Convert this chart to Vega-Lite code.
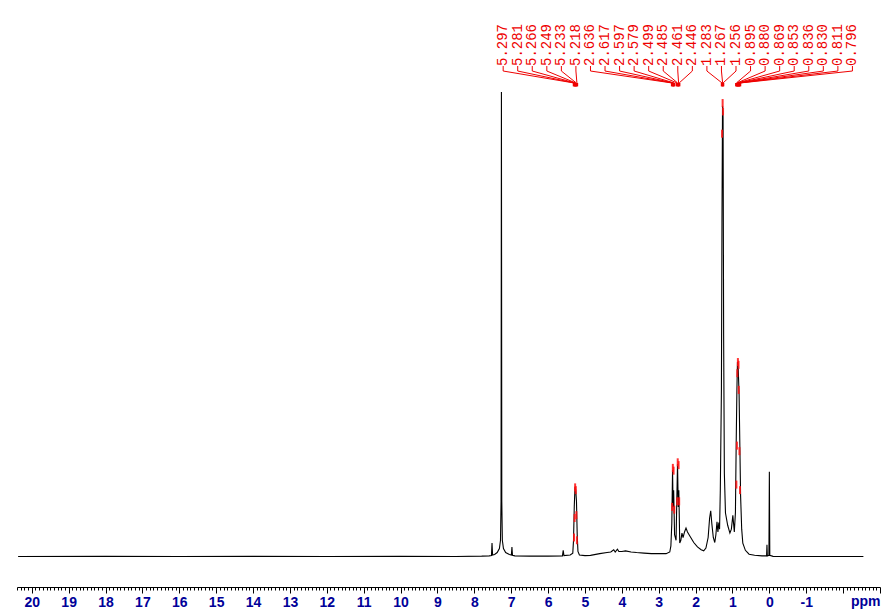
{
  "$schema": "https://vega.github.io/schema/vega-lite/v6.json",
  "width": 863,
  "height": 557,
  "autosize": {"type": "none"},
  "padding": {"left": 17, "top": 0, "right": 14, "bottom": 55},
  "background": "white",
  "config": {"view": {"stroke": null}},
  "datasets": {
    "spectrum": [
      {"ppm": 20.37, "i": 0.1}, {"ppm": 18.0, "i": 0.12}, {"ppm": 16.0, "i": 0.1}, {"ppm": 14.0, "i": 0.12},
      {"ppm": 12.0, "i": 0.1}, {"ppm": 10.0, "i": 0.12}, {"ppm": 8.5, "i": 0.1}, {"ppm": 7.8, "i": 0.15},
      {"ppm": 7.6, "i": 0.2}, {"ppm": 7.535, "i": 0.25}, {"ppm": 7.52, "i": 2.5}, {"ppm": 7.505, "i": 0.35},
      {"ppm": 7.45, "i": 0.45}, {"ppm": 7.38, "i": 0.8}, {"ppm": 7.32, "i": 1.5}, {"ppm": 7.29, "i": 3},
      {"ppm": 7.275, "i": 10}, {"ppm": 7.265, "i": 83.5}, {"ppm": 7.255, "i": 10}, {"ppm": 7.24, "i": 3},
      {"ppm": 7.21, "i": 1.5}, {"ppm": 7.15, "i": 0.8}, {"ppm": 7.05, "i": 0.45}, {"ppm": 6.995, "i": 0.35},
      {"ppm": 6.98, "i": 1.8}, {"ppm": 6.965, "i": 0.3}, {"ppm": 6.9, "i": 0.2}, {"ppm": 6.5, "i": 0.15},
      {"ppm": 6.0, "i": 0.15}, {"ppm": 5.61, "i": 0.2}, {"ppm": 5.59, "i": 1.2}, {"ppm": 5.57, "i": 0.25},
      {"ppm": 5.4, "i": 0.35}, {"ppm": 5.33, "i": 0.7}, {"ppm": 5.31, "i": 3}, {"ppm": 5.29, "i": 9},
      {"ppm": 5.27, "i": 12.6}, {"ppm": 5.25, "i": 12}, {"ppm": 5.23, "i": 10}, {"ppm": 5.21, "i": 4},
      {"ppm": 5.19, "i": 1}, {"ppm": 5.15, "i": 0.35}, {"ppm": 5.0, "i": 0.25}, {"ppm": 4.85, "i": 0.3},
      {"ppm": 4.6, "i": 0.6}, {"ppm": 4.4, "i": 0.8}, {"ppm": 4.3, "i": 0.9}, {"ppm": 4.22, "i": 1.3},
      {"ppm": 4.18, "i": 0.9}, {"ppm": 4.12, "i": 1.4}, {"ppm": 4.08, "i": 1.0}, {"ppm": 4.0, "i": 1.0},
      {"ppm": 3.9, "i": 1.1}, {"ppm": 3.75, "i": 0.9}, {"ppm": 3.6, "i": 0.8}, {"ppm": 3.4, "i": 0.7},
      {"ppm": 3.2, "i": 0.6}, {"ppm": 3.0, "i": 0.6}, {"ppm": 2.8, "i": 0.6}, {"ppm": 2.7, "i": 0.9},
      {"ppm": 2.67, "i": 2}, {"ppm": 2.645, "i": 6}, {"ppm": 2.625, "i": 15.6}, {"ppm": 2.61, "i": 9},
      {"ppm": 2.595, "i": 12}, {"ppm": 2.57, "i": 4}, {"ppm": 2.53, "i": 3}, {"ppm": 2.51, "i": 10},
      {"ppm": 2.49, "i": 16.7}, {"ppm": 2.47, "i": 9}, {"ppm": 2.455, "i": 12}, {"ppm": 2.43, "i": 2.5},
      {"ppm": 2.4, "i": 3}, {"ppm": 2.37, "i": 4.3}, {"ppm": 2.34, "i": 3.5}, {"ppm": 2.3, "i": 4.5},
      {"ppm": 2.26, "i": 5.2}, {"ppm": 2.22, "i": 4.5}, {"ppm": 2.14, "i": 3.6}, {"ppm": 2.05, "i": 2.6},
      {"ppm": 1.95, "i": 1.8}, {"ppm": 1.85, "i": 1.3}, {"ppm": 1.78, "i": 1.1}, {"ppm": 1.72, "i": 1.6},
      {"ppm": 1.66, "i": 3.5}, {"ppm": 1.62, "i": 7}, {"ppm": 1.59, "i": 8.3}, {"ppm": 1.56, "i": 6},
      {"ppm": 1.52, "i": 3.5}, {"ppm": 1.48, "i": 2.6}, {"ppm": 1.45, "i": 4}, {"ppm": 1.42, "i": 6.3},
      {"ppm": 1.395, "i": 4.5}, {"ppm": 1.37, "i": 6.2}, {"ppm": 1.35, "i": 5}, {"ppm": 1.33, "i": 12},
      {"ppm": 1.3, "i": 30}, {"ppm": 1.285, "i": 60}, {"ppm": 1.27, "i": 81}, {"ppm": 1.255, "i": 79},
      {"ppm": 1.24, "i": 40}, {"ppm": 1.22, "i": 15}, {"ppm": 1.19, "i": 7.9}, {"ppm": 1.13, "i": 5.7},
      {"ppm": 1.07, "i": 4.3}, {"ppm": 1.03, "i": 5}, {"ppm": 0.99, "i": 7.5}, {"ppm": 0.95, "i": 4.5},
      {"ppm": 0.92, "i": 8}, {"ppm": 0.9, "i": 20}, {"ppm": 0.88, "i": 30}, {"ppm": 0.865, "i": 35},
      {"ppm": 0.845, "i": 34}, {"ppm": 0.82, "i": 29}, {"ppm": 0.8, "i": 20}, {"ppm": 0.78, "i": 11},
      {"ppm": 0.75, "i": 5}, {"ppm": 0.72, "i": 2.5}, {"ppm": 0.65, "i": 1.2}, {"ppm": 0.55, "i": 0.5},
      {"ppm": 0.4, "i": 0.3}, {"ppm": 0.2, "i": 0.2}, {"ppm": 0.075, "i": 0.2}, {"ppm": 0.065, "i": 2.2},
      {"ppm": 0.055, "i": 0.2}, {"ppm": 0.012, "i": 0.3}, {"ppm": 0.0, "i": 15.3}, {"ppm": -0.012, "i": 0.3},
      {"ppm": -0.1, "i": 0.12}, {"ppm": -1.0, "i": 0.1}, {"ppm": -2.0, "i": 0.1}, {"ppm": -2.55, "i": 0.1}
    ],
    "peaks": [
      {"ppm": 5.297, "h": 3.5}, {"ppm": 5.281, "h": 7}, {"ppm": 5.266, "h": 12.5}, {"ppm": 5.249, "h": 12},
      {"ppm": 5.233, "h": 7.5}, {"ppm": 5.218, "h": 3},
      {"ppm": 2.636, "h": 9}, {"ppm": 2.617, "h": 16}, {"ppm": 2.597, "h": 15.5}, {"ppm": 2.579, "h": 8.5},
      {"ppm": 2.499, "h": 10}, {"ppm": 2.485, "h": 17}, {"ppm": 2.461, "h": 16.5}, {"ppm": 2.446, "h": 10},
      {"ppm": 1.283, "h": 76}, {"ppm": 1.267, "h": 81.5}, {"ppm": 1.256, "h": 80},
      {"ppm": 0.895, "h": 13}, {"ppm": 0.88, "h": 20}, {"ppm": 0.869, "h": 33}, {"ppm": 0.853, "h": 35},
      {"ppm": 0.836, "h": 34.5}, {"ppm": 0.83, "h": 30}, {"ppm": 0.811, "h": 19}, {"ppm": 0.796, "h": 12}
    ]
  },
  "layer": [
    {
      "data": {"name": "spectrum"},
      "mark": {"type": "line", "color": "black", "strokeWidth": 1.1, "interpolate": "linear"},
      "encoding": {
        "x": {
          "field": "ppm", "type": "quantitative",
          "scale": {"domain": [-3.0, 20.4], "reverse": true, "nice": false, "zero": false},
          "axis": {
            "orient": "bottom", "offset": 30, "grid": false,
            "title": "ppm", "titleX": 863, "titleY": 18, "titleAlign": "right", "titleAnchor": null,
            "titleBaseline": "alphabetic", "titleFont": "Liberation Sans", "titleFontSize": 14,
            "titleFontWeight": "bold", "titleColor": "#000099", "titlePadding": 0, "titleAngle": 0,
            "tickCount": 234, "labelOverlap": false, "labelFlush": false, "labelBound": false,
            "labelExpr": "datum.value % 1 === 0 && datum.value >= -1 ? toString(datum.value) : ''",
            "labelFont": "Liberation Sans", "labelFontSize": 14, "labelFontWeight": "bold",
            "labelColor": "#000099", "labelPadding": 2, "labelBaseline": "top",
            "tickSize": {"condition": {"test": "datum.value % 1 === 0", "value": 6}, "value": 3},
            "tickColor": "black", "tickWidth": 1, "domainColor": "black", "domainWidth": 1
          }
        },
        "y": {"field": "i", "type": "quantitative", "scale": {"domain": [0, 100], "nice": false, "zero": false}, "axis": null}
      }
    },
    {
      "data": {"name": "peaks"},
      "transform": [
        {"window": [{"op": "row_number", "as": "idx"}], "sort": [{"field": "ppm", "order": "descending"}]},
        {"calculate": "7.218 - 0.3946 * (datum.idx - 1)", "as": "slot"}
      ],
      "layer": [
        {
          "mark": {"type": "tick", "orient": "vertical", "color": "#ff1010", "size": 8, "thickness": 2, "opacity": 0.85},
          "encoding": {
            "x": {"field": "ppm", "type": "quantitative", "title": "ppm"},
            "y": {"field": "h", "type": "quantitative"}
          }
        },
        {
          "mark": {"type": "text", "angle": 270, "align": "left", "baseline": "middle", "font": "Liberation Mono", "fontSize": 14, "color": "#ee0000"},
          "encoding": {
            "x": {"field": "slot", "type": "quantitative", "title": "ppm"},
            "y": {"datum": 88.15, "type": "quantitative"},
            "text": {"field": "ppm", "type": "quantitative", "format": ".3f"}
          }
        },
        {
          "mark": {"type": "rule", "color": "#ee0000", "strokeWidth": 1},
          "encoding": {
            "x": {"field": "slot", "type": "quantitative", "title": "ppm"},
            "y": {"datum": 88.15, "type": "quantitative"},
            "y2": {"datum": 87.25}
          }
        },
        {
          "mark": {"type": "rule", "color": "#ee0000", "strokeWidth": 1},
          "encoding": {
            "x": {"field": "slot", "type": "quantitative", "title": "ppm"},
            "x2": {"field": "ppm"},
            "y": {"datum": 87.25, "type": "quantitative"},
            "y2": {"datum": 85.1}
          }
        },
        {
          "mark": {"type": "rule", "color": "#ee0000", "strokeWidth": 2.5},
          "encoding": {
            "x": {"field": "ppm", "type": "quantitative", "title": "ppm"},
            "y": {"datum": 85.1, "type": "quantitative"},
            "y2": {"datum": 84.5}
          }
        }
      ]
    }
  ]
}
